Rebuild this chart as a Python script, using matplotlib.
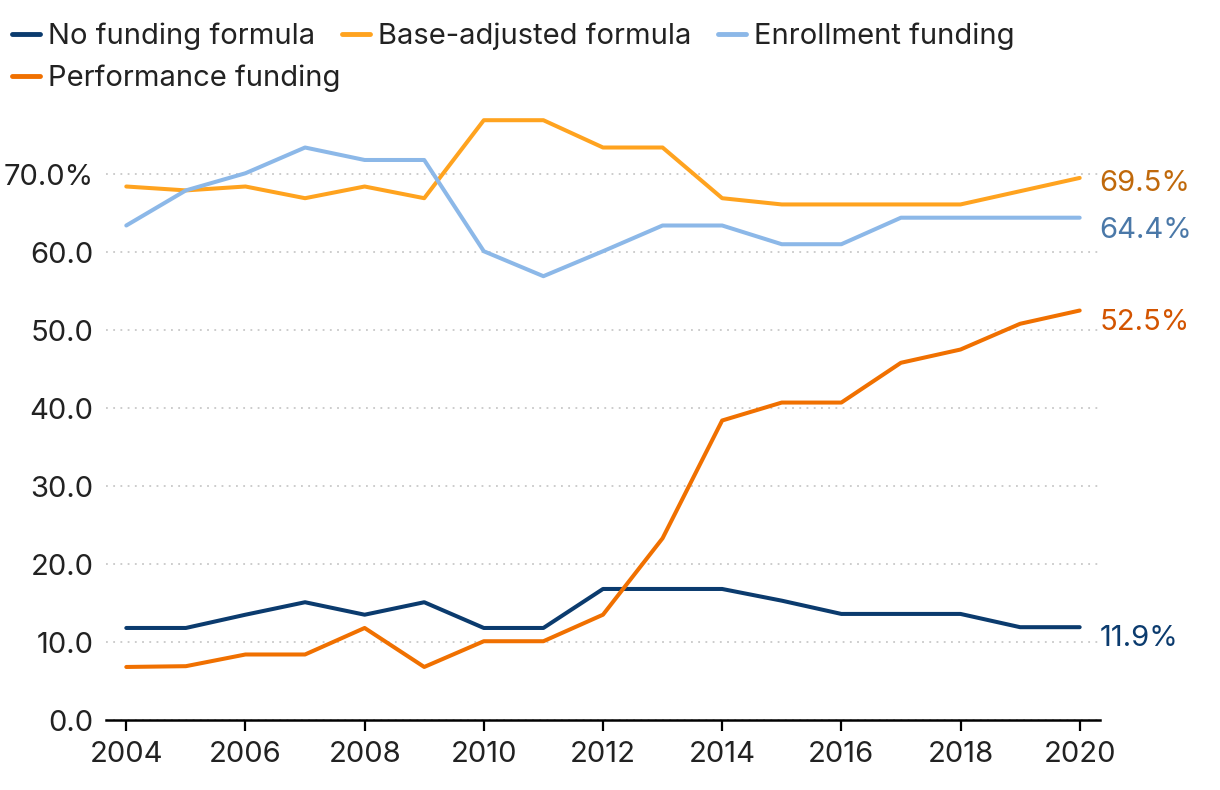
import matplotlib
matplotlib.use("Agg")
import matplotlib.pyplot as plt
from matplotlib.ticker import FixedLocator

plt.rcParams['font.family'] = ['Inter', 'DejaVu Sans']

years = list(range(2004, 2021))
no_funding = [11.8, 11.8, 13.5, 15.1, 13.5, 15.1, 11.8, 11.8, 16.8, 16.8, 16.8, 15.3, 13.6, 13.6, 13.6, 11.9, 11.9]
base_adjusted = [68.4, 67.9, 68.4, 66.9, 68.4, 66.9, 76.9, 76.9, 73.4, 73.4, 66.9, 66.1, 66.1, 66.1, 66.1, 67.8, 69.5]
enrollment = [63.4, 67.9, 70.1, 73.4, 71.8, 71.8, 60.1, 56.9, 60.1, 63.4, 63.4, 61.0, 61.0, 64.4, 64.4, 64.4, 64.4]
performance = [6.8, 6.9, 8.4, 8.4, 11.8, 6.8, 10.1, 10.1, 13.5, 23.3, 38.4, 40.7, 40.7, 45.8, 47.5, 50.8, 52.5]

series_names = ["No funding formula", "Base-adjusted formula", "Enrollment funding", "Performance funding"]
series_vals = [no_funding, base_adjusted, enrollment, performance]
line_colors = ["#0b3b6e", "#ffa31f", "#8cb8e8", "#f07000"]
label_colors = ["#0b3b6e", "#c0690b", "#4a78a8", "#d35400"]

yticks = [0, 10, 20, 30, 40, 50, 60, 70]
ytick_labels = ["0.0", "10.0", "20.0", "30.0", "40.0", "50.0", "60.0", "70.0%"]
xticks = [2004, 2006, 2008, 2010, 2012, 2014, 2016, 2018, 2020]

FS = 21

fig = plt.figure(figsize=(12.2, 7.9), dpi=100)
ax = fig.add_axes([0.0869, 0.0886, 0.9016 - 0.0869, 0.8587 - 0.0886])

handles = []
for name, vals, c in zip(series_names, series_vals, line_colors):
    h, = ax.plot(years, vals, color=c, lw=2.9, label=name, solid_capstyle='round', solid_joinstyle='round')
    handles.append(h)

# end labels
for vals, c, dy in zip(series_vals, label_colors, [-11, -6, -13, -12]):
    ax.annotate(f"{vals[-1]:.1f}%", xy=(years[-1], vals[-1]), xytext=(20, dy),
                textcoords='offset pixels', color=c, fontsize=FS, va='center', ha='left',
                annotation_clip=False)

ax.set_xlim(2003.66, 2020.34)
ax.set_ylim(0, 78)
ax.yaxis.set_major_locator(FixedLocator(yticks))
ax.set_yticklabels(ytick_labels)
ax.set_xticks(xticks)
ax.set_xticklabels([str(x) for x in xticks])

for s in ['top', 'right', 'left']:
    ax.spines[s].set_visible(False)
ax.spines['bottom'].set_linewidth(1.8)
ax.spines['bottom'].set_color('black')

ax.tick_params(axis='y', length=0, labelsize=FS, labelcolor='#222222', pad=9)
ax.tick_params(axis='x', length=8, width=1.6, direction='out', labelsize=FS, labelcolor='#222222', pad=7)

ax.grid(axis='y', color='#c8c8c8', linestyle=(0, (1, 3)), linewidth=1.3)
ax.set_axisbelow(True)

# flowing legend: row 1 with three entries, row 2 with one
leg_kw = dict(frameon=False, fontsize=FS, handlelength=0.95, handletextpad=0.3,
              columnspacing=0.9, borderpad=0.0, borderaxespad=0.0, loc='center left')
leg1 = fig.legend(handles=handles[:3], ncol=3, bbox_to_anchor=(12 / 1220, 1 - 36 / 790), **leg_kw)
leg2 = fig.legend(handles=handles[3:], ncol=1, bbox_to_anchor=(12 / 1220, 1 - 78 / 790), **leg_kw)
for leg in (leg1, leg2):
    for t in leg.get_texts():
        t.set_color('#222222')
    for l in leg.get_lines():
        l.set_linewidth(3.5)

fig.savefig("out.png", dpi=100)
